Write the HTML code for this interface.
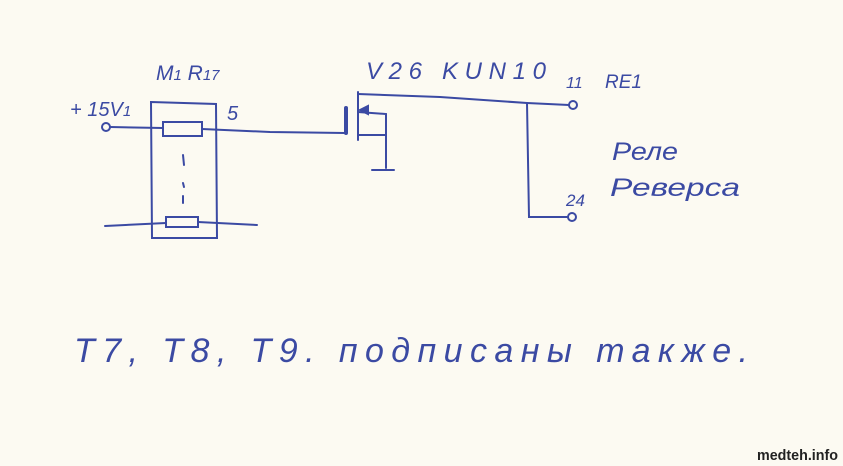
<!DOCTYPE html>
<html><head><meta charset="utf-8"><style>
html,body{margin:0;padding:0;background:#fcfaf2;}
svg{display:block;}
text{font-family:"Liberation Sans","DejaVu Sans",sans-serif;fill:#3b4aa3;}
</style></head><body>
<svg width="843" height="466" viewBox="0 0 843 466" xmlns="http://www.w3.org/2000/svg">
<rect width="843" height="466" fill="#fcfaf2"/>
<g stroke="#3b4aa3" stroke-width="2" fill="none" stroke-linecap="round">
<path d="M151,102 L216,104 L217,238 L152,238 Z"/>
<path d="M110,127 L163,128"/>
<rect x="163" y="122" width="39" height="14"/>
<path d="M202,129 L270,132 L345,133"/>
<circle cx="106" cy="127" r="4"/>
<path d="M183,155 L184,165 M183,183 L184,187 M183,196 L183,203"/>
<path d="M105,226 L166,223 M198,222 L257,225"/>
<rect x="166" y="217" width="32" height="10"/>
<path d="M346,108 L346,133" stroke-width="4"/>
<path d="M358,92 L358,140"/>
<path d="M358,112 L386,114 L386,168 M358,135 L385,135 M372,170 L394,170"/>
<path d="M360,110 L368,106 L368,114 Z" fill="#3b4aa3"/>
<path d="M358,94 L440,97 L527,103 L569,105"/>
<circle cx="573" cy="105" r="4"/>
<path d="M527,103 L529,217 L568,217"/>
<circle cx="572" cy="217" r="4"/>
</g>
<g style="font-style:italic">
<text x="70" y="116" font-size="20">+ 15V<tspan font-size="15">1</tspan></text>
<text x="156" y="80" font-size="21">M<tspan font-size="15">1</tspan> R<tspan font-size="15">17</tspan></text>
<text x="227" y="120" font-size="20">5</text>
<text x="366" y="79" font-size="24" textLength="180" lengthAdjust="spacing">V26 KUN10</text>
<text x="566" y="88" font-size="16">11</text>
<text x="605" y="88" font-size="19">RE1</text>
<text x="566" y="206" font-size="17">24</text>
<text x="612" y="160" font-size="25" textLength="66" lengthAdjust="spacingAndGlyphs">Реле</text>
<text x="610" y="196" font-size="25" textLength="130" lengthAdjust="spacingAndGlyphs">Реверса</text>
<text x="74" y="362" font-size="34" textLength="674" lengthAdjust="spacing">T7, T8, T9. подписаны  также.</text>
</g>
<text x="757" y="460" font-size="15" font-weight="bold" textLength="81" lengthAdjust="spacingAndGlyphs" style="fill:#222">medteh.info</text>
</svg>
</body></html>
